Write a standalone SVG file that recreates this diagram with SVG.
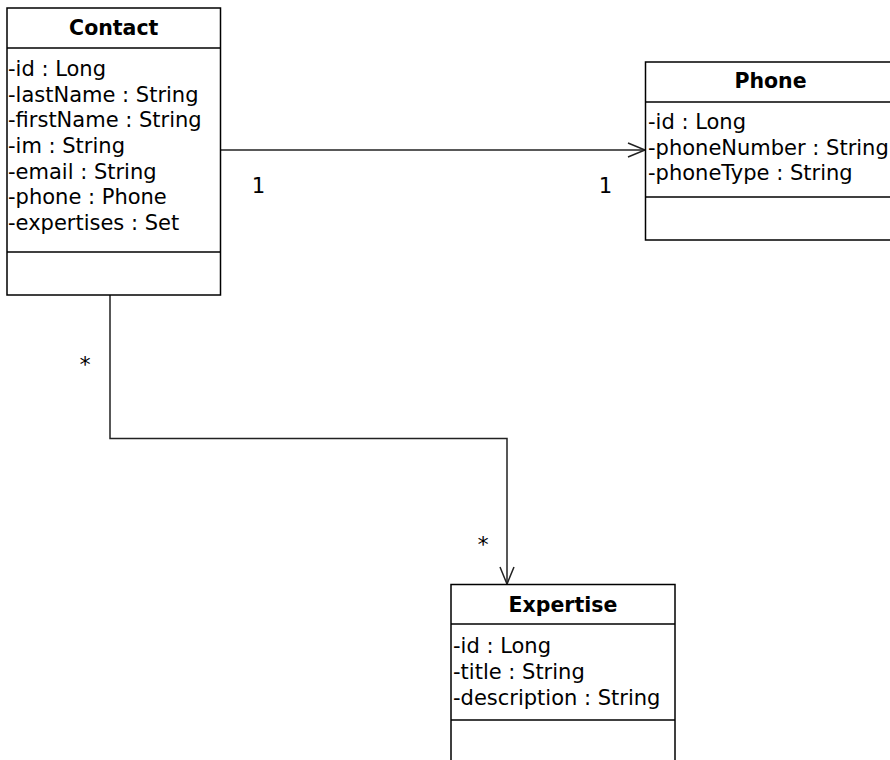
<svg xmlns="http://www.w3.org/2000/svg" width="890" height="760" viewBox="0 0 890 760">
<style>
.box{fill:#fff;stroke:#000;stroke-width:1.5}
.div{stroke:#000;stroke-width:1.5}
.title{font-family:"DejaVu Sans",sans-serif;font-weight:bold;font-size:20.5px;text-anchor:middle;fill:#000}
.attr{font-family:"DejaVu Sans",sans-serif;font-size:21px;fill:#000}
.mult{font-family:"DejaVu Sans Mono","Liberation Mono",monospace;font-size:22px;text-anchor:middle;fill:#000}
.conn{fill:none;stroke:#222;stroke-width:1.5}
</style>
<defs>
<marker id="open" markerWidth="20" markerHeight="16" viewBox="0 0 20 16" refX="18" refY="8" orient="auto" markerUnits="userSpaceOnUse">
<path d="M1,1 L18,8 L1,15" fill="none" stroke="#222" stroke-width="1.5"/>
</marker>
</defs>
<rect width="890" height="760" fill="#fff"/>
<g id="connectors">
<path class="conn" d="M220.5,150 L645,150" marker-end="url(#open)"/>
<path class="conn" d="M110,295 L110,438.5 L507,438.5 L507,584" marker-end="url(#open)"/>
<text class="mult" x="258" y="193">1</text>
<text class="mult" x="605" y="193">1</text>
<text class="mult" x="85" y="372">*</text>
<text class="mult" x="483" y="552">*</text>
</g>
<g id="contact">
<rect class="box" x="7" y="8" width="213.5" height="287"/>
<line class="div" x1="7" y1="48" x2="220.5" y2="48"/>
<line class="div" x1="7" y1="252" x2="220.5" y2="252"/>
<text class="title" x="113.75" y="35">Contact</text>
<text class="attr" x="8" y="76">-id : Long</text>
<text class="attr" x="8" y="101.7">-lastName : String</text>
<text class="attr" x="8" y="127.3">-firstName : String</text>
<text class="attr" x="8" y="153">-im : String</text>
<text class="attr" x="8" y="178.7">-email : String</text>
<text class="attr" x="8" y="204.3">-phone : Phone</text>
<text class="attr" x="8" y="230">-expertises : Set</text>
</g>
<g id="phone">
<rect class="box" x="645.5" y="62" width="252" height="178"/>
<line class="div" x1="645.5" y1="102" x2="897" y2="102"/>
<line class="div" x1="645.5" y1="197" x2="897" y2="197"/>
<text class="title" x="770.5" y="88">Phone</text>
<text class="attr" x="648" y="129">-id : Long</text>
<text class="attr" x="648" y="154.7">-phoneNumber : String</text>
<text class="attr" x="648" y="180.3">-phoneType : String</text>
</g>
<g id="expertise">
<rect class="box" x="451" y="584.5" width="224" height="190"/>
<line class="div" x1="451" y1="624" x2="675" y2="624"/>
<line class="div" x1="451" y1="720" x2="675" y2="720"/>
<text class="title" x="563" y="612">Expertise</text>
<text class="attr" x="453" y="653">-id : Long</text>
<text class="attr" x="453" y="679">-title : String</text>
<text class="attr" x="453" y="705">-description : String</text>
</g>
</svg>
